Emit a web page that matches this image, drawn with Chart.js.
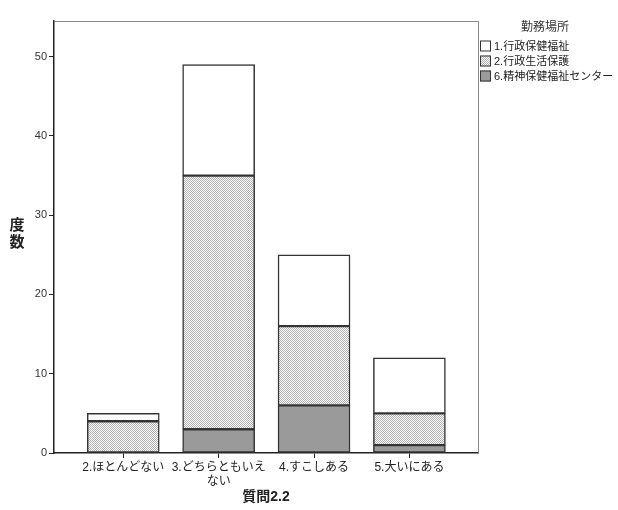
<!DOCTYPE html>
<html>
<head>
<meta charset="utf-8">
<script src="https://cdn.jsdelivr.net/npm/chart.js@4"></script>
<style>
  html, body { margin: 0; padding: 0; background: #fff; }
  #wrap { width: 618px; height: 510px; }
</style>
</head>
<body>
<div id="wrap"><canvas id="chart" width="618" height="510"></canvas></div>
<script>
const categories = ['2.ほとんどない', ['3.どちらともいえ', 'ない'], '4.すこしある', '5.大いにある'];
const seriesNames = ['6.精神保健福祉センター', '2.行政生活保護', '1.行政保健福祉'];
const center = [0, 3, 6, 1];      // 6.精神保健福祉センター
const welfare = [4, 32, 10, 4];   // 2.行政生活保護
const health = [1, 14, 9, 7];     // 1.行政保健福祉
const yTicks = [0, 10, 20, 30, 40, 50];

const FONT = "'Liberation Sans', 'Noto Sans CJK JP', sans-serif";

// dotted fill like the SPSS pattern
function dotPattern() {
    const c = document.createElement('canvas');
    c.width = 2; c.height = 2;
    const g = c.getContext('2d');
    g.fillStyle = '#ffffff';
    g.fillRect(0, 0, 2, 2);
    g.fillStyle = '#b0b0b0';
    g.fillRect(0, 0, 1, 1);
    g.fillRect(1, 1, 1, 1);
    return g.createPattern(c, 'repeat');
}

const ctx = document.getElementById('chart').getContext('2d');
const pattern = dotPattern();
const fills = ['#9a9a9a', pattern, '#ffffff'];
const seriesValues = [center, welfare, health];

const datasets = seriesValues.map((vals, s) => ({
    label: seriesNames[s],
    data: vals.map((v, i) => ({ x: i, y: v })),
    backgroundColor: fills[s],
    borderColor: '#333333',
    borderWidth: 1.5,
    borderSkipped: false,
    grouped: false,
    barThickness: 72,
    maxBarThickness: 72
}));

const extras = {
    id: 'extras',
    afterDraw(chart) {
        const c = chart.ctx;
        const a = chart.chartArea;
        c.save();
        // frame top/right
        c.strokeStyle = '#888888';
        c.lineWidth = 1;
        c.beginPath();
        c.moveTo(a.left, a.top + 0.5);
        c.lineTo(a.right + 0.5, a.top + 0.5);
        c.lineTo(a.right + 0.5, a.bottom);
        c.stroke();

        // axis titles
        c.fillStyle = '#222222';
        c.font = 'bold 15px ' + FONT;
        c.textAlign = 'center';
        c.textBaseline = 'middle';
        c.fillText('度', 17, 226);
        c.fillText('数', 17, 243);
        c.font = 'bold 14px ' + FONT;
        c.fillText('質問2.2', (a.left + a.right) / 2, 497);

        // legend
        c.font = '12px ' + FONT;
        c.fillStyle = '#333333';
        c.fillText('勤務場所', 545, 28);
        c.font = '11px ' + FONT;
        c.textAlign = 'left';
        const order = [2, 1, 0];
        order.forEach((s, k) => {
            const y = 46 + k * 15;
            c.fillStyle = fills[s];
            c.fillRect(480, y - 5.5, 11, 11);
            c.strokeStyle = '#333333';
            c.lineWidth = 1;
            c.strokeRect(480.5, y - 5, 10, 10);
            c.fillStyle = '#222222';
            c.fillText(chart.data.datasets[s].label, 494, y + 1);
        });
        c.restore();
    }
};

new Chart(ctx, {
    type: 'bar',
    data: { datasets: datasets },
    options: {
        responsive: false,
        animation: false,
        layout: { padding: { top: 21, right: 140, left: 0, bottom: 0 } },
        plugins: {
            legend: { display: false },
            tooltip: { enabled: false }
        },
        scales: {
            x: {
                type: 'linear',
                stacked: true,
                offset: false,
                min: -0.726,
                max: 3.719,
                afterBuildTicks: axis => { axis.ticks = categories.map((_, i) => ({ value: i })); },
                afterFit: axis => { axis.height = 57; },
                ticks: {
                    callback: v => categories[v],
                    color: '#222222',
                    font: { family: FONT, size: 12 },
                    padding: 2,
                    maxRotation: 0,
                    autoSkip: false
                },
                grid: { offset: false, drawOnChartArea: false, drawTicks: true, tickLength: 5, color: '#222222' },
                border: { display: true, color: '#222222', width: 1.5 }
            },
            y: {
                stacked: true,
                min: 0,
                max: 54.5,
                afterBuildTicks: axis => { axis.ticks = yTicks.map(v => ({ value: v })); },
                afterFit: axis => { axis.width = 54; },
                ticks: {
                    color: '#333333',
                    font: { family: FONT, size: 11 },
                    padding: 2
                },
                grid: { drawOnChartArea: false, drawTicks: true, tickLength: 5, color: '#222222' },
                border: { display: true, color: '#222222', width: 1.5 }
            }
        }
    },
    plugins: [extras]
});
</script>
</body>
</html>
